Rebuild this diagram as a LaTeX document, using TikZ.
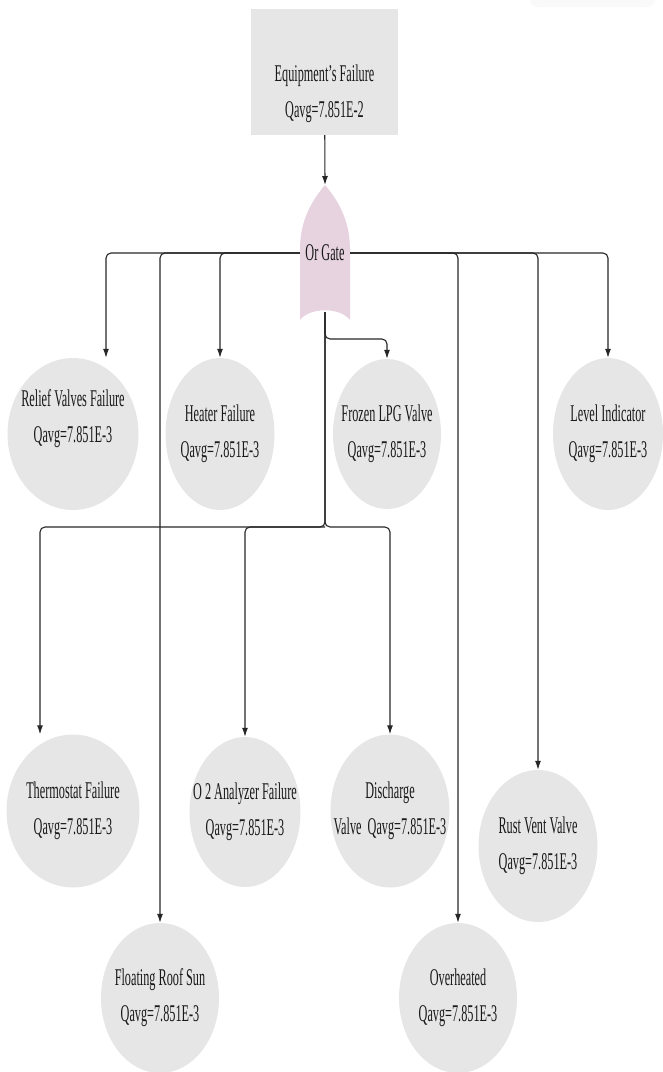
\documentclass[tikz,border=0pt]{standalone}
\usepackage{fontspec}
\setmainfont{Liberation Serif}[FakeStretch=0.51]
\usetikzlibrary{shapes,arrows.meta}
\definecolor{evgray}{RGB}{230,230,230}
\definecolor{gatepink}{RGB}{231,211,224}
\tikzset{
	event/.style={ellipse, fill=evgray, inner sep=0pt},
	evtext/.style={align=center, inner sep=0pt},
	topbox/.style={rectangle, fill=evgray, minimum width=147pt, minimum height=126pt},
	conn/.style={-{Latex[length=9pt,width=6pt]}, line width=1.1pt, draw=black!85, rounded corners=5pt},
}
\begin{document}
\begin{tikzpicture}[x=1pt,y=-1pt,font=\fontsize{24}{36}\selectfont,text=black!90]
		\useasboundingbox (0,0) rectangle (663,1072);
		\fill[black!2.5, rounded corners=8pt] (530,-10) rectangle (655,7); % sombra
		% evento superior
		\node[topbox] (top) at (324.5,72) {};
		\node[evtext] (toptxt) at (324.5,94) {Equipment's Failure\\Qavg=7.851E-2};
		% compuerta
		\fill[gatepink] (300,320) -- (300,250) .. controls (300,225) and (308,205) .. (325,185)
		.. controls (342,205) and (350,225) .. (350,250) -- (350,320)
		.. controls (340,307) and (310,307) .. (300,320);
		\coordinate (gtip) at (325,185);
		\coordinate (gbot) at (325,312);
		\coordinate (j1) at (325,339);
		\coordinate (j2) at (325,527);
		\node[minimum width=50pt, inner sep=0pt] (gate) at (325,253) {Or Gate};
		% fila 1
		\node[event, minimum width=131pt, minimum height=152pt] (rvf) at (73,434) {};
		\node[evtext] (rvftxt) at (73,419) {Relief Valves Failure\\Qavg=7.851E-3};
		\node[event, minimum width=109pt, minimum height=152pt] (hf) at (220,434) {};
		\node[evtext] (hftxt) at (hf) {Heater Failure\\Qavg=7.851E-3};
		\node[event, minimum width=108pt, minimum height=150pt] (fl) at (387,434) {};
		\node[evtext] (fltxt) at (fl) {Frozen LPG Valve\\Qavg=7.851E-3};
		\node[event, minimum width=110pt, minimum height=152pt] (li) at (608,434) {};
		\node[evtext] (litxt) at (li) {Level Indicator\\Qavg=7.851E-3};
		% fila 2
		\node[event, minimum width=133pt, minimum height=153pt] (tf) at (73,811) {};
		\node[evtext] (tftxt) at (tf) {Thermostat Failure\\Qavg=7.851E-3};
		\node[event, minimum width=111pt, minimum height=150pt] (oa) at (245,812) {};
		\node[evtext] (oatxt) at (oa) {O 2 Analyzer Failure\\Qavg=7.851E-3};
		\node[event, minimum width=119pt, minimum height=153pt] (dv) at (390,811) {};
		\node[evtext] (dvtxt) at (dv) {Discharge\\Valve~ Qavg=7.851E-3};
		\node[event, minimum width=119pt, minimum height=152pt] (rs) at (538,846) {};
		\node[evtext] (rstxt) at (rs) {Rust Vent Valve\\Qavg=7.851E-3};
		% fila 3
		\node[event, minimum width=118pt, minimum height=150pt] (fr) at (160,998) {};
		\node[evtext] (frtxt) at (fr) {Floating Roof Sun\\Qavg=7.851E-3};
		\node[event, minimum width=118pt, minimum height=150pt] (oh) at (458,998) {};
		\node[evtext] (ohtxt) at (oh) {Overheated\\Qavg=7.851E-3};
		% conexiones
		\draw[conn] (top) -- (gtip);
		\draw[conn] (gate.west) -| ([xshift=33pt]rvf.north);
		\draw[conn] (gate.west) -| (fr.north);
		\draw[conn] (gate.west) -| (hf.north);
		\draw[conn] (gate.east) -| (oh.north);
		\draw[conn] (gate.east) -| (rs.north);
		\draw[conn] (gate.east) -| (li.north);
		\draw[conn] (gbot) -- (j1) -| (fl.north);
		\draw[conn] (gbot) -- (j2) -| ([xshift=-33pt]tf.north);
		\draw[conn] (j2) -| (oa.north);
		\draw[conn] (gbot) -- (j2) -| (dv.north);
\end{tikzpicture}
\end{document}
